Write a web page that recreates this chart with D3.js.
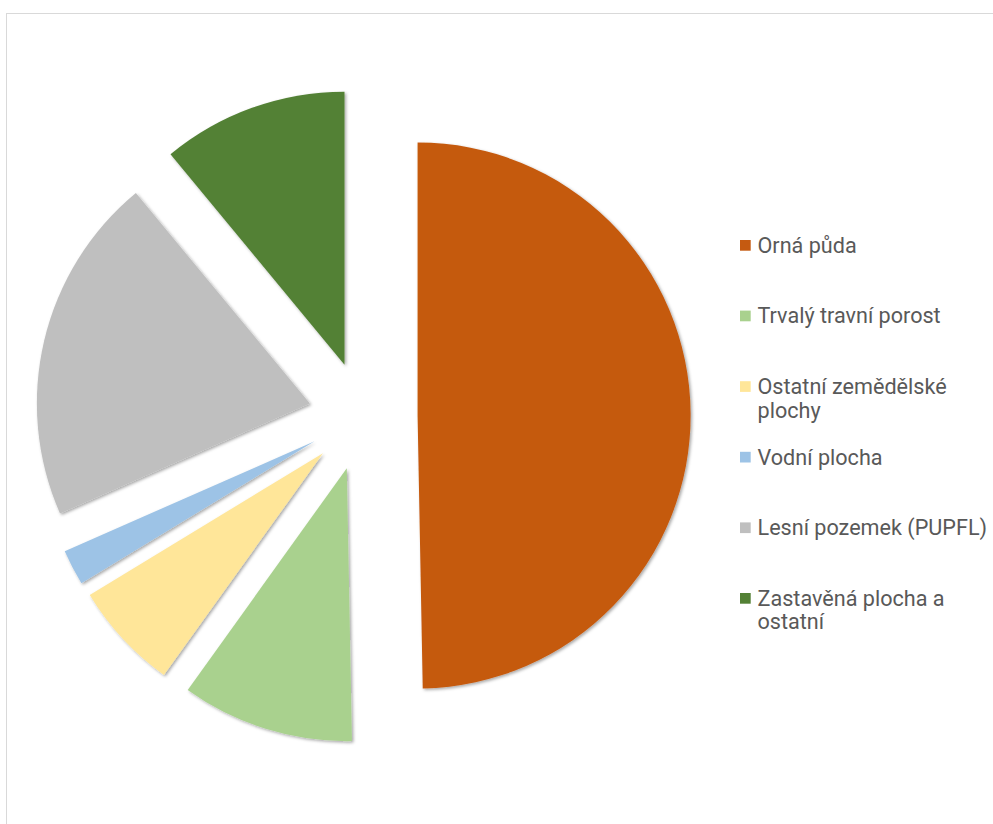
<!DOCTYPE html>
<html>
<head>
<meta charset="utf-8">
<script src="https://cdn.jsdelivr.net/npm/d3@7"></script>
<style>
  html, body { margin: 0; padding: 0; background: #fff; }
  #chart { width: 993px; height: 824px; }
</style>
</head>
<body>
<div id="chart"></div>
<script>
// --- data ---
const categories = ["Orná půda", "Trvalý travní porost", "Ostatní zemědělské plochy",
                    "Vodní plocha", "Lesní pozemek (PUPFL)", "Zastavěná plocha a ostatní"];
const values = [49.7, 10.2, 6.4, 2.1, 20.6, 11.0];
const colors = ["#C55A11", "#A9D18E", "#FFE699", "#9DC3E6", "#BFBFBF", "#538135"];
// legend lines (wrapped as in the original)
const legendLines = [["Orná půda"], ["Trvalý travní porost"], ["Ostatní zemědělské", "plochy"],
                     ["Vodní plocha"], ["Lesní pozemek (PUPFL)"], ["Zastavěná plocha a", "ostatní"]];

const width = 993, height = 824;
const cx = 363, cy = 416, radius = 273;
const explode = 0.2 * radius;

const svg = d3.select("#chart").append("svg")
    .attr("width", width)
    .attr("height", height);

// chart area border
svg.append("rect")
    .attr("x", 6.5).attr("y", 13.5)
    .attr("width", width + 10).attr("height", height + 10)
    .attr("fill", "#fff")
    .attr("stroke", "#d9d9d9")
    .attr("stroke-width", 1);

const defs = svg.append("defs");
const f = defs.append("filter").attr("id", "shadow")
    .attr("x", "-10%").attr("y", "-10%").attr("width", "120%").attr("height", "120%");
f.append("feDropShadow")
    .attr("dx", 1.5).attr("dy", 1.5)
    .attr("stdDeviation", 1.8)
    .attr("flood-color", "#000")
    .attr("flood-opacity", 0.35);

const pie = d3.pie().sort(null).value(d => d);
const arcs = pie(values);
const arc = d3.arc().innerRadius(0).outerRadius(radius);

const g = svg.append("g").attr("transform", `translate(${cx},${cy})`);

g.selectAll("path")
    .data(arcs)
    .join("path")
    .attr("d", arc)
    .attr("fill", (d, i) => colors[i])
    .attr("filter", "url(#shadow)")
    .attr("transform", d => {
        const a = (d.startAngle + d.endAngle) / 2;
        return `translate(${explode * Math.sin(a)},${-explode * Math.cos(a)})`;
    });

// --- legend ---
const legendX = 740, legendY0 = 245.3, legendStep = 70.6;
const legend = svg.append("g")
    .style("font-family", "Roboto, sans-serif")
    .style("font-size", "21.6px")
    .attr("fill", "#595959");

categories.forEach((c, i) => {
    const y = legendY0 + i * legendStep;
    legend.append("rect")
        .attr("x", legendX)
        .attr("y", y - 5.3)
        .attr("width", 10.7)
        .attr("height", 10.7)
        .attr("fill", colors[i]);
    const t = legend.append("text")
        .attr("x", legendX + 17.5)
        .attr("y", y + 7.5);
    legendLines[i].forEach((line, j) => {
        t.append("tspan")
            .attr("x", legendX + 17.5)
            .attr("dy", j === 0 ? 0 : 23.5)
            .text(line);
    });
});
</script>
</body>
</html>
